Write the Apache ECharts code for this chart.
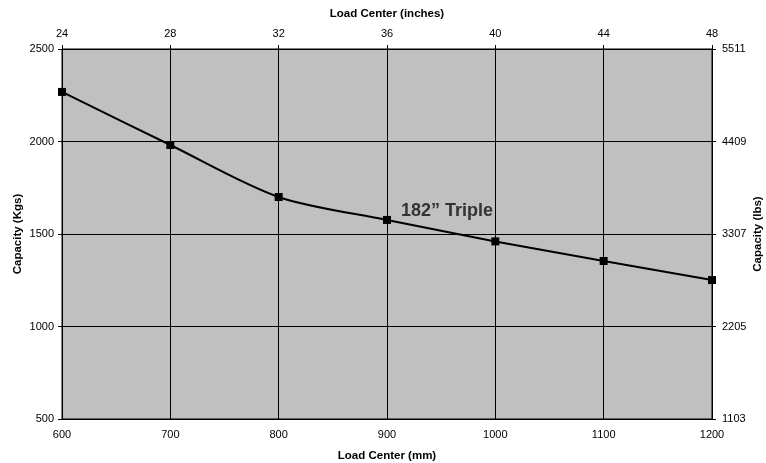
<!DOCTYPE html>
<html><head><meta charset="utf-8">
<script src="https://cdn.jsdelivr.net/npm/echarts@6/dist/echarts.min.js"></script>
<style>html,body{margin:0;padding:0;background:#fff}#c{width:766px;height:463px}</style>
</head><body><div id="c"></div>
<script>
const loadCenterMm = [600, 700, 800, 900, 1000, 1100, 1200];
const capacityKgs = [2268, 1981, 1700, 1576, 1460, 1354, 1251];
const inchLabels = ['24', '28', '32', '36', '40', '44', '48'];
const lbsLabels = ['1103', '2205', '3307', '4409', '5511'];
const seriesName = '182\u201d Triple';
const labelIndex = 3;

const chart = echarts.init(document.getElementById('c'));
const font = 'Liberation Sans, Arial, sans-serif';
const axisLine = { show: true, lineStyle: { color: '#000', width: 1 } };
const nameStyle = { fontWeight: 'bold', fontSize: 11.5, color: '#000', fontFamily: font };
chart.setOption({
  animation: false,
  textStyle: { fontFamily: font },
  grid: { left: 62, right: 54, top: 49, bottom: 44, outerBoundsMode: 'none', containLabel: false,
    show: true, backgroundColor: '#c0c0c0', borderColor: '#000', borderWidth: 1 },
  xAxis: [
    { type: 'value', min: 600, max: 1200, interval: 100, position: 'bottom',
      name: 'Load Center (mm)', nameLocation: 'middle', nameGap: 31, nameMoveOverlap: false, nameTextStyle: nameStyle,
      axisLine, axisTick: { show: false },
      axisLabel: { color: '#000', fontSize: 11, margin: 10, fontFamily: font, formatter: (v) => String(v) },
      splitLine: { show: true, lineStyle: { color: '#000', width: 1 } } },
    { type: 'value', min: 600, max: 1200, interval: 100, position: 'top',
      name: 'Load Center (inches)', nameLocation: 'middle', nameGap: 29, nameMoveOverlap: false, nameTextStyle: nameStyle,
      axisLine, axisTick: { show: true, length: 4, lineStyle: { color: '#000' } },
      axisLabel: { color: '#000', fontSize: 11, margin: 10, fontFamily: font,
        formatter: (v) => inchLabels[Math.round((v - 600) / 100)] },
      splitLine: { show: false } }
  ],
  yAxis: [
    { type: 'value', min: 500, max: 2500, interval: 500, position: 'left',
      name: 'Capacity (Kgs)', nameLocation: 'middle', nameGap: 38, nameMoveOverlap: false, nameTextStyle: nameStyle,
      axisLine, axisTick: { show: true, length: 4, lineStyle: { color: '#000' } },
      axisLabel: { color: '#000', fontSize: 11, margin: 8, fontFamily: font, formatter: (v) => String(v) },
      splitLine: { show: true, lineStyle: { color: '#000', width: 1 } } },
    { type: 'value', min: 500, max: 2500, interval: 500, position: 'right',
      name: 'Capacity (lbs)', nameLocation: 'middle', nameGap: 40, nameRotate: 90, nameMoveOverlap: false, nameTextStyle: nameStyle,
      axisLine, axisTick: { show: true, length: 4, lineStyle: { color: '#000' } },
      axisLabel: { color: '#000', fontSize: 11, margin: 10, fontFamily: font,
        formatter: (v) => lbsLabels[Math.round((v - 500) / 500)] },
      splitLine: { show: false } }
  ],
  series: [{
    name: seriesName, type: 'line', smooth: 0.3,
    symbol: 'rect', symbolSize: 8,
    lineStyle: { color: '#000', width: 2 }, itemStyle: { color: '#000' },
    data: loadCenterMm.map((x, i) => {
      const d = { value: [x, capacityKgs[i]] };
      if (i === labelIndex) d.label = { show: true, position: 'right', offset: [5, -9],
        formatter: seriesName, fontSize: 18, fontWeight: 'bold', color: '#333', fontFamily: font };
      return d;
    })
  }]
});
</script></body></html>
